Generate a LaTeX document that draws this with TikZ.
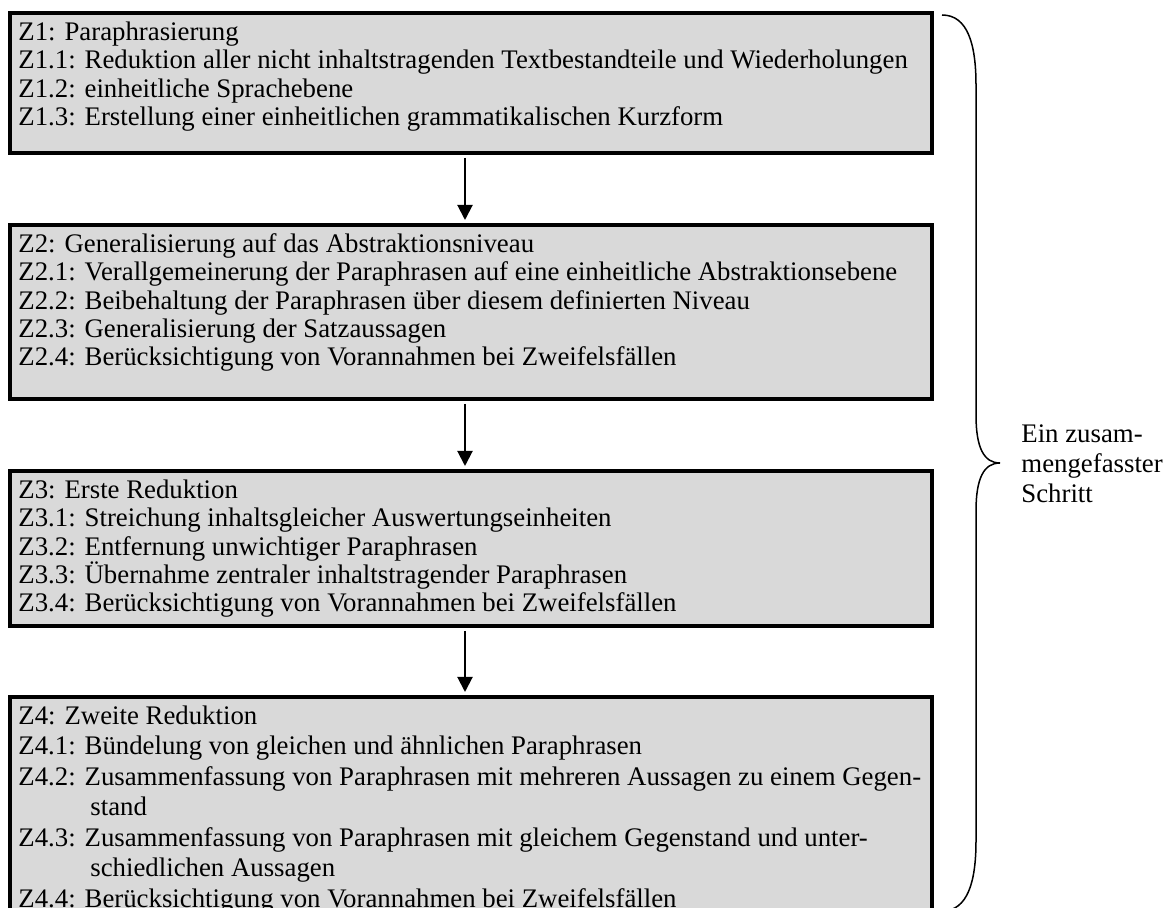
\documentclass[tikz,border=0pt]{standalone}
\usepackage{fontspec}
\setmainfont{Liberation Serif}
\usetikzlibrary{arrows.meta}
\definecolor{boxgray}{HTML}{D9D9D9}
\begin{document}
\begin{tikzpicture}[x=0.5pt,y=-0.5pt,
  stepbox/.style={draw=black,line width=1.75pt,fill=boxgray,minimum width=461pt,inner sep=0pt,outer sep=0pt},
  txt/.style={anchor=north west,align=left,inner sep=0pt,font=\fontsize{13.4}{14.2}\selectfont},
  txtwide/.style={anchor=north west,align=left,inner sep=0pt,font=\fontsize{13.4}{15.25}\selectfont},
  sidetxt/.style={anchor=north west,align=left,inner sep=0pt,font=\fontsize{13.4}{15}\selectfont},
  arr/.style={line width=1pt,-{Triangle[length=7.5pt,width=7.5pt]},shorten <=2.5pt,shorten >=2.5pt},
  bracel/.style={line width=0.75pt}]
\useasboundingbox (0,0) rectangle (1168,908);
\clip (0,0) rectangle (1168,908);
% boxes
\node[stepbox,minimum height=70pt] (b1) at (471,83) {};
\node[stepbox,minimum height=87pt] (b2) at (471,312) {};
\node[stepbox,minimum height=77.5pt] (b3) at (471,548.5) {};
\node[stepbox,minimum height=121pt] (b4) at (471,818) {};
% texts
\node[txt] (t1) at (18,20) {\strut Z1: Paraphrasierung\\
Z1.1: Reduktion aller nicht inhaltstragenden Textbestandteile und Wiederholungen\\
Z1.2: einheitliche Sprachebene\\
Z1.3: Erstellung einer einheitlichen grammatikalischen Kurzform};
\node[txt] (t2) at (18,232) {\strut Z2: Generalisierung auf das Abstraktionsniveau\\
Z2.1: Verallgemeinerung der Paraphrasen auf eine einheitliche Abstraktionsebene\\
Z2.2: Beibehaltung der Paraphrasen über diesem definierten Niveau\\
Z2.3: Generalisierung der Satzaussagen\\
Z2.4: Berücksichtigung von Vorannahmen bei Zweifelsfällen};
\node[txt] (t3) at (18,478) {\strut Z3: Erste Reduktion\\
Z3.1: Streichung inhaltsgleicher Auswertungseinheiten\\
Z3.2: Entfernung unwichtiger Paraphrasen\\
Z3.3: Übernahme zentraler inhaltstragender Paraphrasen\\
Z3.4: Berücksichtigung von Vorannahmen bei Zweifelsfällen};
\node[txtwide] (t4) at (18,702.5) {\strut Z4: Zweite Reduktion\\
Z4.1: Bündelung von gleichen und ähnlichen Paraphrasen\\
Z4.2: Zusammenfassung von Paraphrasen mit mehreren Aussagen zu einem Gegen-\\
\hspace*{36pt}stand\\
Z4.3: Zusammenfassung von Paraphrasen mit gleichem Gegenstand und unter-\\
\hspace*{36pt}schiedlichen Aussagen\\
Z4.4: Berücksichtigung von Vorannahmen bei Zweifelsfällen};
% arrows
\draw[arr] ([xshift=-3pt]b1.south) -- ([xshift=-3pt]b2.north);
\draw[arr] ([xshift=-3pt]b2.south) -- ([xshift=-3pt]b3.north);
\draw[arr] ([xshift=-3pt]b3.south) -- ([xshift=-3pt]b4.north);
% brace
\coordinate (tip) at (1000,463);
\draw[bracel] (942,15) .. controls (968,15) and (976,45) .. (976,85)
  -- (976,415) .. controls (976,448) and (984,463) .. (tip)
  .. controls (984,463) and (976,478) .. (976,511)
  -- (976,841) .. controls (976,881) and (968,911) .. (942,911);
\node[sidetxt] (side) at (1021,421) {\strut Ein zusam-\\mengefasster\\Schritt};
\end{tikzpicture}
\end{document}
